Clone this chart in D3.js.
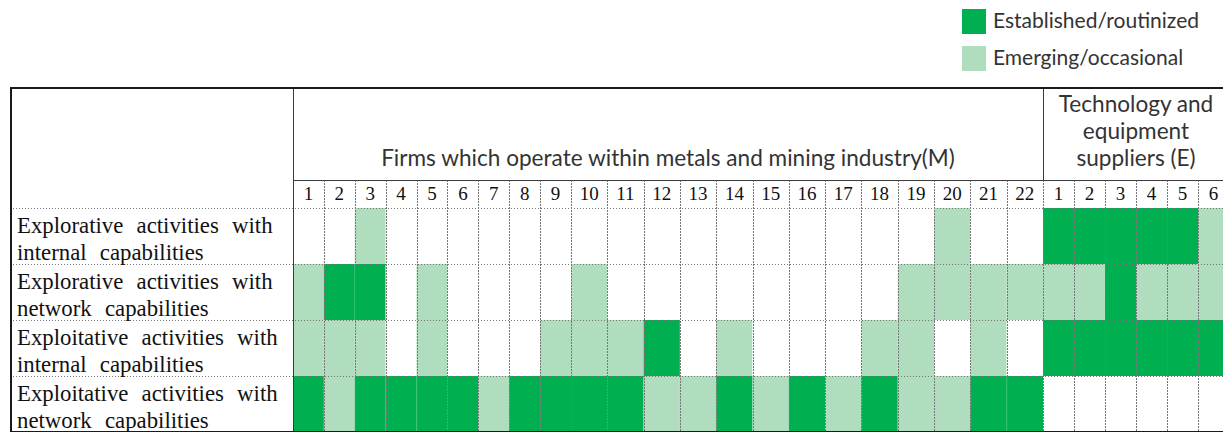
<!DOCTYPE html>
<html>
<head>
<meta charset="utf-8">
<script src="https://cdn.jsdelivr.net/npm/d3@7"></script>
<style>
  body { margin: 0; background: #fff; }
  svg { display: block; }
</style>
</head>
<body>
<div id="chart"></div>
<script>
// column labels
var firmsM = ["1","2","3","4","5","6","7","8","9","10","11","12","13","14","15","16","17","18","19","20","21","22"];
var firmsE = ["1","2","3","4","5","6"];

// row labels, two lines each
var activities = [
  ["Explorative activities with", "internal capabilities"],
  ["Explorative activities with", "network capabilities"],
  ["Exploitative activities with", "internal capabilities"],
  ["Exploitative activities with", "network capabilities"]
];

var levels = ["Established/routinized", "Emerging/occasional"];

// 2 = established/routinized, 1 = emerging/occasional, 0 = none
// first 22 values are M firms, last 6 are E firms
var exploreInternal = [0,0,1,0,0,0,0,0,0,0,0,0,0,0,0,0,0,0,0,1,0,0, 2,2,2,2,2,1];
var exploreNetwork  = [1,2,2,0,1,0,0,0,0,1,0,0,0,0,0,0,0,0,1,1,1,1, 1,1,2,1,1,1];
var exploitInternal = [1,1,1,0,1,0,0,0,1,1,1,2,0,1,0,0,0,1,1,0,1,0, 2,2,2,2,2,2];
var exploitNetwork  = [2,1,2,2,2,2,1,2,2,2,2,1,1,2,1,2,1,2,1,1,2,2, 0,0,0,0,0,0];

var rows = [exploreInternal, exploreNetwork, exploitInternal, exploitNetwork];

var width = 1223, height = 432;
var colors = {2: "#00b050", 1: "#b0ddbd", 0: "#ffffff"};

var svg = d3.select("#chart").append("svg")
  .attr("width", width)
  .attr("height", height);

// table frame
var tableLeft = 10, labelRight = 293, tableTop = 88, numTop = 180, bodyTop = 208, bodyBottom = 432;
var mSplit = 571, eLeft = 1043, eRight = 1229;

// columns: one-digit and two-digit M firms are set in different widths
var xM1 = d3.scaleBand().domain(firmsM.slice(0, 9)).range([labelRight, mSplit]);
var xM2 = d3.scaleBand().domain(firmsM.slice(9)).range([mSplit, eLeft]);
var xE = d3.scaleBand().domain(firmsE).range([eLeft, eRight]);

var columns = firmsM.map(function(f, i) {
  var sc = i < 9 ? xM1 : xM2;
  return {label: f, x: sc(f), w: sc.bandwidth()};
}).concat(firmsE.map(function(f) {
  return {label: f, x: xE(f), w: xE.bandwidth()};
}));

var y = d3.scaleBand().domain(d3.range(activities.length)).range([bodyTop, bodyBottom]);

// cells
var cells = [];
rows.forEach(function(r, ri) {
  r.forEach(function(v, ci) {
    cells.push({row: ri, col: ci, v: v});
  });
});

svg.append("g").selectAll("rect")
  .data(cells)
  .enter().append("rect")
    .attr("x", function(d) { return columns[d.col].x; })
    .attr("y", function(d) { return y(d.row); })
    .attr("width", function(d) { return columns[d.col].w; })
    .attr("height", y.bandwidth())
    .attr("fill", function(d) { return colors[d.v]; });

// dotted grid lines
var grid = svg.append("g")
  .attr("stroke", "#777")
  .attr("stroke-width", 1);

grid.selectAll(".hline")
  .data(d3.range(activities.length))
  .enter().append("line")
    .attr("x1", tableLeft)
    .attr("x2", width)
    .attr("y1", function(d) { return y(d) + 0.5; })
    .attr("y2", function(d) { return y(d) + 0.5; })
    .attr("stroke-dasharray", "1,2");

grid.selectAll(".vline")
  .data(columns.slice(1))
  .enter().append("line")
    .attr("x1", function(d) { return Math.round(d.x) + 0.5; })
    .attr("x2", function(d) { return Math.round(d.x) + 0.5; })
    .attr("y1", numTop)
    .attr("y2", bodyBottom)
    .attr("stroke-dasharray", "2,1");

// solid header lines
var solid = svg.append("g").attr("stroke", "#3a3a3a").attr("stroke-width", 1);
solid.append("line")
  .attr("x1", labelRight).attr("x2", width)
  .attr("y1", numTop + 0.5).attr("y2", numTop + 0.5);
solid.append("line")
  .attr("x1", eLeft + 0.5).attr("x2", eLeft + 0.5)
  .attr("y1", tableTop).attr("y2", numTop);
solid.append("line")
  .attr("x1", labelRight + 0.5).attr("x2", labelRight + 0.5)
  .attr("y1", tableTop).attr("y2", bodyBottom);

// outer border
var border = svg.append("g").attr("stroke", "#1a1a1a").attr("stroke-width", 2);
border.append("line")
  .attr("x1", tableLeft).attr("x2", width)
  .attr("y1", tableTop).attr("y2", tableTop);
border.append("line")
  .attr("x1", tableLeft + 1).attr("x2", tableLeft + 1)
  .attr("y1", tableTop - 1).attr("y2", bodyBottom);
border.append("line")
  .attr("x1", tableLeft).attr("x2", width)
  .attr("y1", bodyBottom).attr("y2", bodyBottom);

// column numbers
svg.append("g").selectAll("text")
  .data(columns)
  .enter().append("text")
    .attr("x", function(d) { return d.x + d.w / 2; })
    .attr("y", 200)
    .attr("text-anchor", "middle")
    .style("font-family", "'Liberation Serif', serif")
    .style("font-size", "19px")
    .attr("fill", "#111")
    .text(function(d) { return d.label; });

// group headers
svg.append("text")
  .attr("x", (labelRight + eLeft) / 2)
  .attr("y", 166)
  .attr("text-anchor", "middle")
  .style("font-family", "Lato, sans-serif")
  .style("font-size", "22.6px")
  .attr("fill", "#333")
  .text("Firms which operate within metals and mining industry(M)");

var eHead = ["Technology and", "equipment", "suppliers (E)"];
svg.append("g").selectAll("text")
  .data(eHead)
  .enter().append("text")
    .attr("x", (eLeft + eRight) / 2)
    .attr("y", function(d, i) { return 112 + i * 27; })
    .attr("text-anchor", "middle")
    .style("font-family", "Lato, sans-serif")
    .style("font-size", "22.6px")
    .attr("fill", "#333")
    .text(function(d) { return d; });

// row labels
var labels = svg.append("g").selectAll("g")
  .data(activities)
  .enter().append("g");

labels.each(function(d, ri) {
  d3.select(this).selectAll("text")
    .data(d)
    .enter().append("text")
      .attr("x", 17)
      .attr("y", function(t, li) { return y(ri) + 25 + li * 27; })
      .style("font-family", "'Liberation Serif', serif")
      .style("font-size", "22.8px")
      .style("word-spacing", "7.5px")
      .attr("fill", "#111")
      .text(function(t) { return t; });
});

// legend
var legend = svg.append("g").selectAll("g")
  .data(levels)
  .enter().append("g")
    .attr("transform", function(d, i) { return "translate(962," + (9 + i * 37) + ")"; });

legend.append("rect")
  .attr("width", 24)
  .attr("height", 25)
  .attr("fill", function(d, i) { return colors[2 - i]; });

legend.append("text")
  .attr("x", 31)
  .attr("y", 19)
  .style("font-family", "Lato, sans-serif")
  .style("font-size", "21px")
  .attr("fill", "#333")
  .text(function(d) { return d; });
</script>
</body>
</html>
